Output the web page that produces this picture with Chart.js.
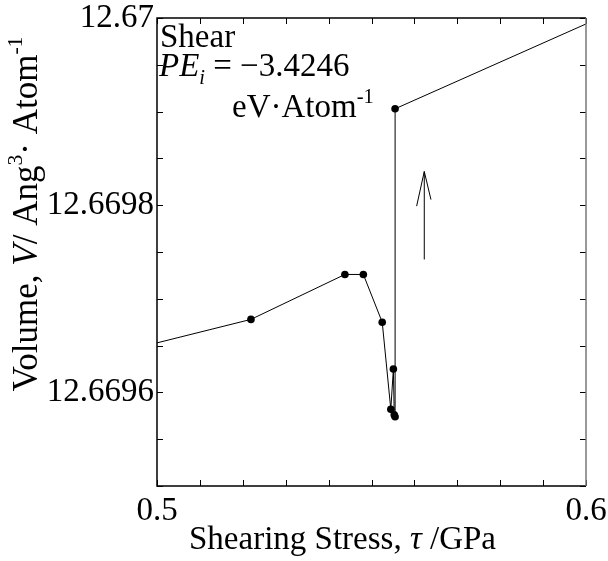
<!DOCTYPE html>
<html>
<head>
<meta charset="utf-8">
<script src="https://cdn.jsdelivr.net/npm/chart.js@4.4.1/dist/chart.umd.min.js"></script>
<style>
  html, body { margin: 0; padding: 0; background: #ffffff; }
  #wrap { width: 608px; height: 561px; }
</style>
</head>
<body>
<div id="wrap"><canvas id="chart" width="608" height="561"></canvas></div>
<script>
// shearing stress (GPa) and volume (Ang^3/atom)
const stress = [0.48, 0.5219, 0.5438, 0.5481, 0.5525, 0.5545, 0.5551, 0.5553, 0.5555, 0.5555, 0.61];
const volume = [12.669630, 12.669678, 12.669726, 12.669726, 12.669675, 12.669582, 12.669625, 12.669576, 12.669574, 12.669903, 12.670014];
// first and last points sit outside the axes, only the line shows
const markerSize = [0, 3.8, 3.8, 3.8, 3.8, 3.8, 3.8, 3.8, 3.8, 3.8, 0];

const xLabels = [0.5, 0.6];
const yLabels = [12.6696, 12.6698, 12.67];

// arrow pointing up, in data units
const arrowX = 0.5623;
const arrowY = [12.669742, 12.669836];
const arrowHeadL = [0.56052, 12.669799];
const arrowHeadR = [0.56386, 12.669806];

const FONT = "'Liberation Serif', 'Times New Roman', serif";
const FS = 33;

const points = stress.map((x, i) => ({ x: x, y: volume[i] }));

function hasLabel(list, v) {
  return list.some(t => Math.abs(t - v) < 1e-9);
}

// draw a run of text pieces, some italic, some raised or lowered
function drawRich(ctx, parts, x, y, size) {
  let cx = x;
  parts.forEach(p => {
    const s = p.small ? size * 0.62 : size;
    ctx.font = (p.italic ? 'italic ' : '') + s + 'px ' + FONT;
    ctx.fillText(p.t, cx, y + (p.dy || 0));
    cx += ctx.measureText(p.t).width;
  });
  return cx - x;
}
function richWidth(ctx, parts, size) {
  let w = 0;
  parts.forEach(p => {
    const s = p.small ? size * 0.62 : size;
    ctx.font = (p.italic ? 'italic ' : '') + s + 'px ' + FONT;
    w += ctx.measureText(p.t).width;
  });
  return w;
}

const framePlugin = {
  id: 'frame',
  afterDatasetsDraw(chart) {
    const ctx = chart.ctx;
    const a = chart.chartArea;
    const xs = chart.scales.x;
    const ys = chart.scales.y;
    ctx.save();
    ctx.strokeStyle = '#000';
    ctx.lineWidth = 1;
    // inward ticks on all four sides
    ctx.beginPath();
    xs.ticks.forEach((t, i) => {
      const px = Math.round(xs.getPixelForTick(i)) + 0.5;
      ctx.moveTo(px, a.bottom); ctx.lineTo(px, a.bottom - 6);
      ctx.moveTo(px, a.top); ctx.lineTo(px, a.top + 6);
    });
    ys.ticks.forEach((t, i) => {
      const py = Math.round(ys.getPixelForTick(i)) + 0.5;
      ctx.moveTo(a.left, py); ctx.lineTo(a.left + 6, py);
      ctx.moveTo(a.right, py); ctx.lineTo(a.right - 6, py);
    });
    ctx.stroke();

    // box
    ctx.lineWidth = 1.5;
    ctx.beginPath();
    ctx.moveTo(a.right, a.top); ctx.lineTo(a.left, a.top);
    ctx.lineTo(a.left, a.bottom); ctx.lineTo(a.right, a.bottom);
    ctx.stroke();
    ctx.strokeStyle = '#777';
    ctx.beginPath();
    ctx.moveTo(a.right, a.top); ctx.lineTo(a.right, a.bottom);
    ctx.stroke();

    // arrow
    ctx.strokeStyle = '#000';
    ctx.lineWidth = 1;
    const ax = xs.getPixelForValue(arrowX);
    const tipY = ys.getPixelForValue(arrowY[1]);
    ctx.beginPath();
    ctx.moveTo(ax, ys.getPixelForValue(arrowY[0]));
    ctx.lineTo(ax, tipY);
    ctx.moveTo(xs.getPixelForValue(arrowHeadL[0]), ys.getPixelForValue(arrowHeadL[1]));
    ctx.lineTo(ax, tipY);
    ctx.lineTo(xs.getPixelForValue(arrowHeadR[0]), ys.getPixelForValue(arrowHeadR[1]));
    ctx.stroke();

    // notes inside the plot
    ctx.fillStyle = '#000';
    ctx.textBaseline = 'alphabetic';
    ctx.textAlign = 'left';
    drawRich(ctx, [{ t: 'Shear' }], a.left + 3, 47, FS);
    drawRich(ctx, [
      { t: 'PE', italic: true },
      { t: 'i', italic: true, small: true, dy: 8 },
      { t: ' = \u22123.4246' }
    ], a.left + 2, 76, FS);
    drawRich(ctx, [
      { t: 'eV\u00b7Atom' },
      { t: '-1', small: true, dy: -14 }
    ], 232, 117, FS);

    // x axis title
    drawRich(ctx, [
      { t: 'Shearing Stress, ' },
      { t: '\u03c4', italic: true },
      { t: ' /GPa' }
    ], 189, 549, FS);

    // y axis title, rotated
    const yParts = [
      { t: 'Volume, ' },
      { t: 'V', italic: true },
      { t: '/ Ang' },
      { t: '3', small: true, dy: -15 },
      { t: '\u00b7 Atom' },
      { t: '-1', small: true, dy: -15 }
    ];
    const w = richWidth(ctx, yParts, 35);
    ctx.translate(37, 214);
    ctx.rotate(-Math.PI / 2);
    drawRich(ctx, yParts, -w / 2, 0, 35);
    ctx.restore();
  }
};

new Chart(document.getElementById('chart'), {
  type: 'scatter',
  data: {
    datasets: [{
      data: points,
      showLine: true,
      borderColor: '#000',
      borderWidth: 1,
      backgroundColor: '#000',
      pointRadius: markerSize,
      pointBorderWidth: 0,
      tension: 0
    }]
  },
  options: {
    responsive: false,
    animation: false,
    layout: { padding: { top: 18, right: 22, left: 0, bottom: 0 } },
    plugins: { legend: { display: false }, tooltip: { enabled: false } },
    scales: {
      x: {
        type: 'linear',
        min: 0.5,
        max: 0.6,
        grid: { display: false, drawTicks: false },
        border: { display: false },
        afterFit: s => { s.height = 75; s.paddingLeft = 0; s.paddingRight = 0; },
        ticks: {
          stepSize: 0.01,
          autoSkip: false,
          maxRotation: 0,
          padding: 6,
          color: '#000',
          font: { family: FONT, size: FS },
          callback: v => hasLabel(xLabels, v) ? String(+v.toFixed(2)) : ''
        }
      },
      y: {
        type: 'linear',
        min: 12.6695,
        max: 12.67,
        grid: { display: false, drawTicks: false },
        border: { display: false },
        afterFit: s => { s.width = 157; s.paddingTop = 0; s.paddingBottom = 0; },
        ticks: {
          stepSize: 0.00005,
          autoSkip: false,
          padding: 3,
          color: '#000',
          font: { family: FONT, size: FS },
          callback: v => hasLabel(yLabels, v) ? String(+v.toFixed(4)) : ''
        }
      }
    }
  },
  plugins: [framePlugin]
});
</script>
</body>
</html>
